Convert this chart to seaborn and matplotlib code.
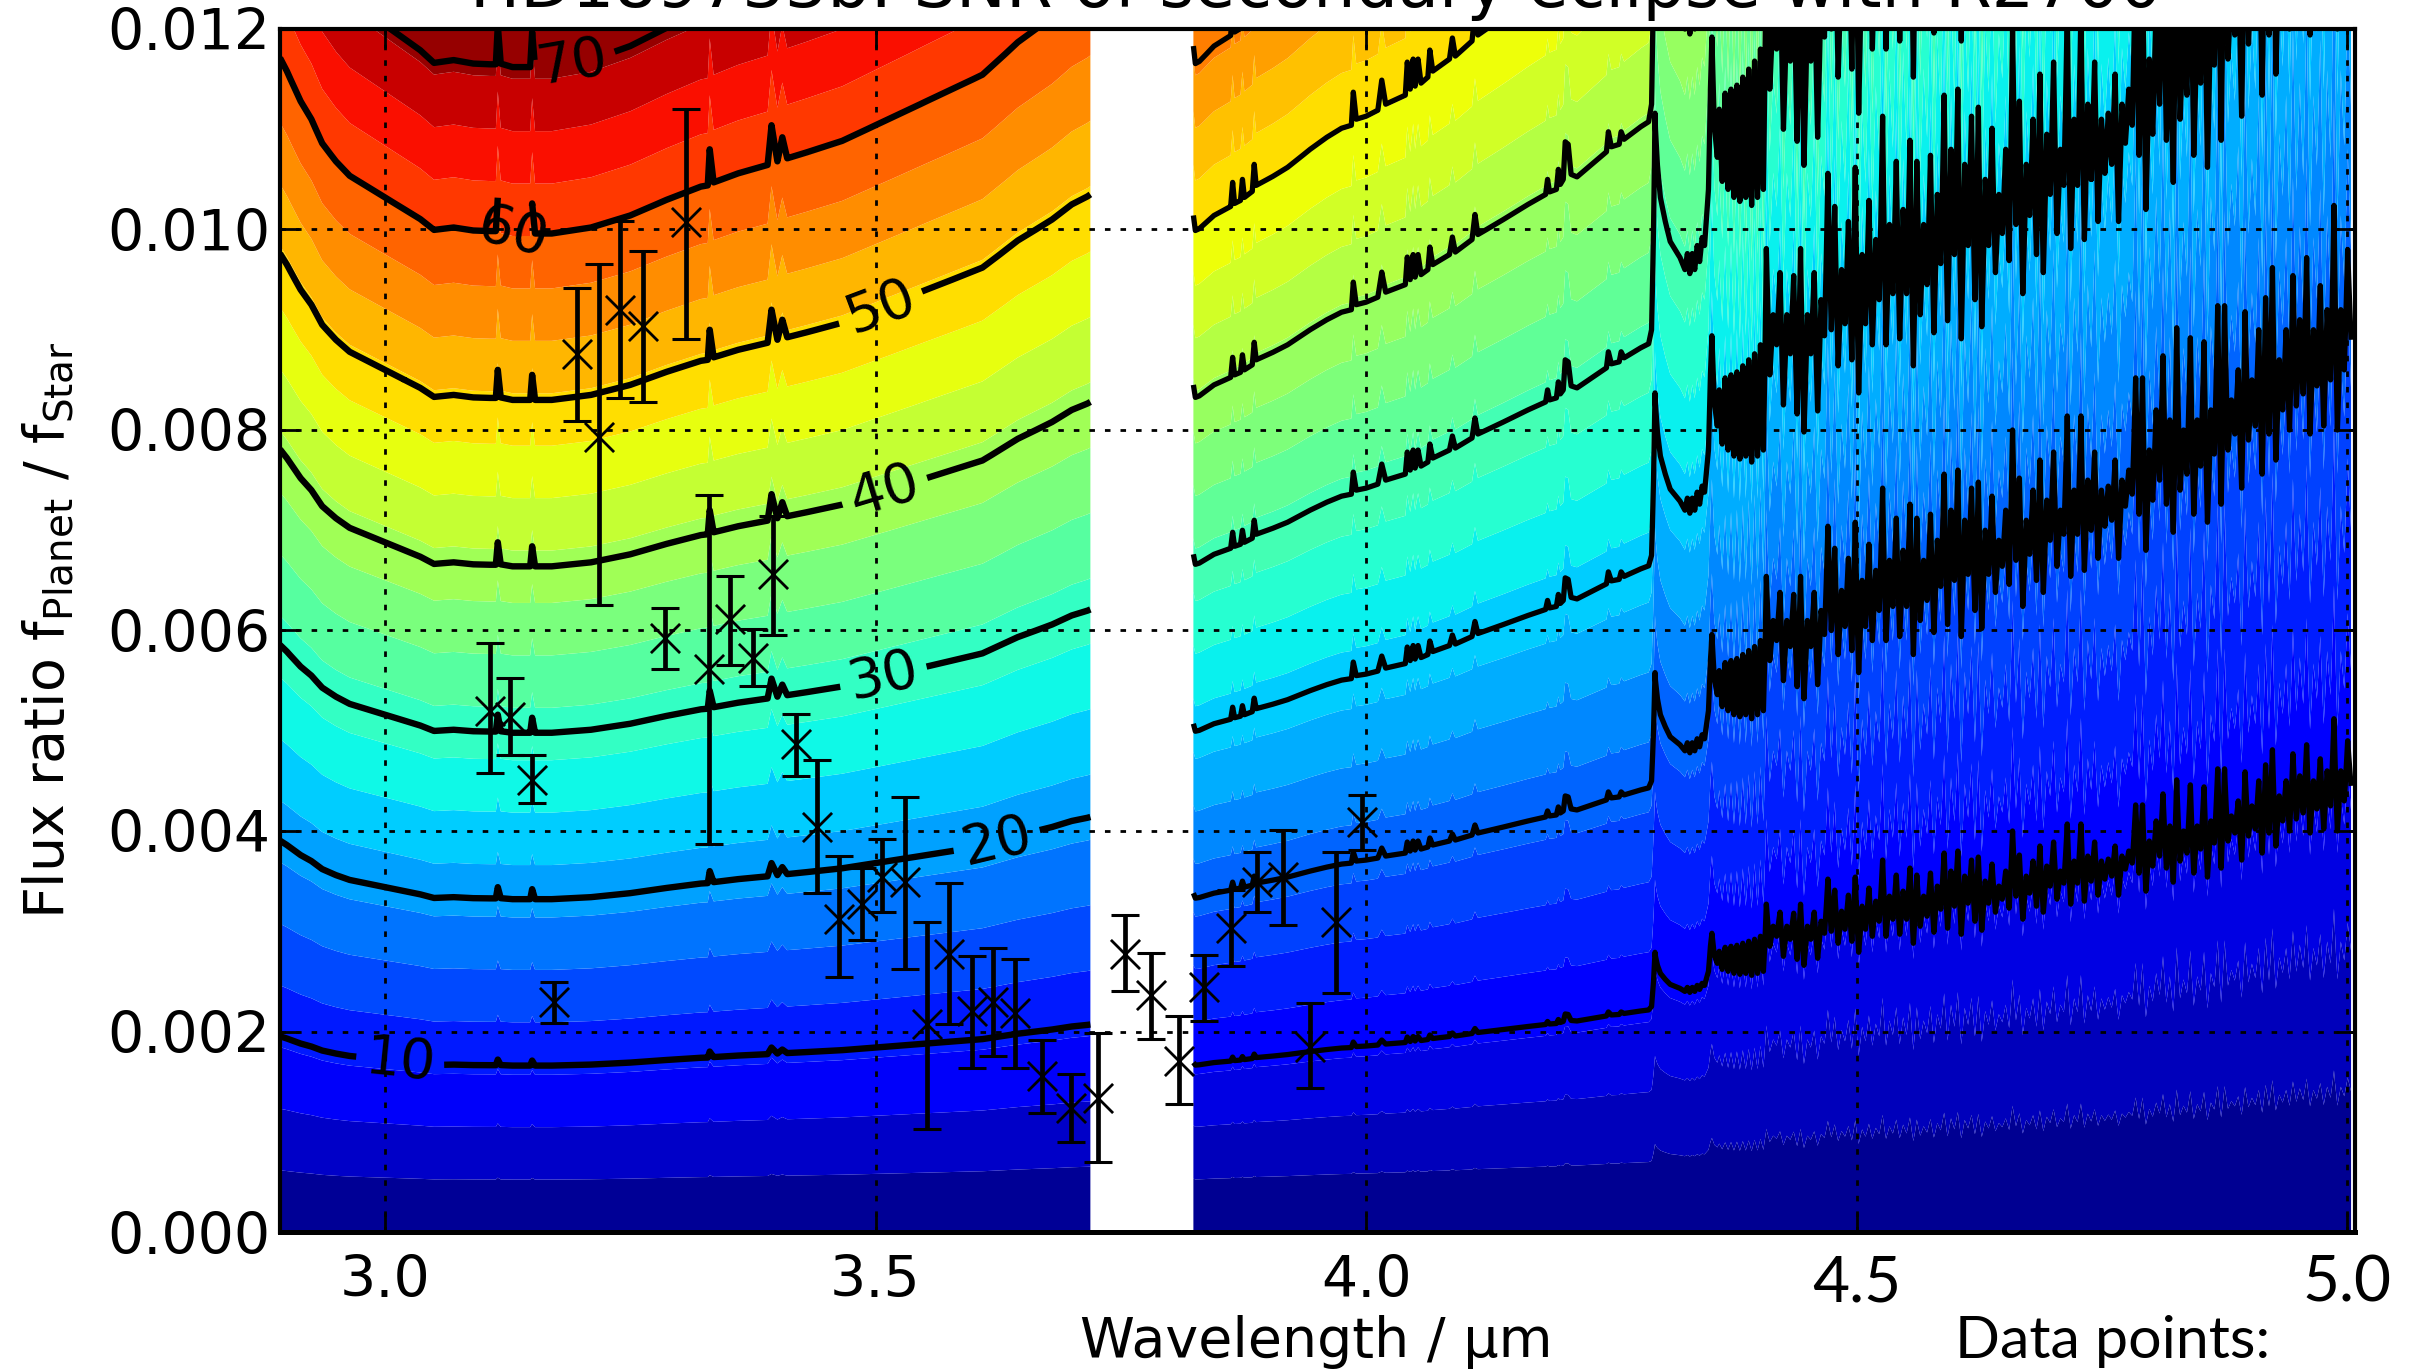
import numpy as np
import matplotlib
matplotlib.use("Agg")
import matplotlib.pyplot as plt
import seaborn as sns
import pandas as pd

# SNR=10 flux-ratio curve (units of 1e-3)
blue_lam = [2.893,2.90,2.914,2.925,2.936,2.95,2.964,2.98,3.0,3.02,3.036,3.05,3.07,3.09,3.107,3.113,3.115,3.118,3.13,3.148,3.15,3.153,3.17,3.19,3.21,3.25,3.287,3.322,3.329,3.331,3.335,3.36,3.39,3.394,3.40,3.405,3.41,3.43,3.466,3.5,3.552,3.609,3.645,3.68,3.70,3.716,3.719]
blue_y10 = [1.952,1.93,1.88,1.85,1.81,1.78,1.756,1.74,1.72,1.70,1.684,1.666,1.67,1.665,1.664,1.664,1.72,1.665,1.66,1.66,1.71,1.66,1.66,1.665,1.67,1.69,1.716,1.738,1.74,1.80,1.745,1.76,1.774,1.84,1.78,1.82,1.785,1.795,1.814,1.84,1.88,1.924,1.978,2.02,2.05,2.066,2.07]
red_lam = [3.824,3.826,3.83,3.845,3.862,3.864,3.866,3.872,3.874,3.876,3.884,3.886,3.888,3.905,3.92,3.943,3.96,3.975,3.985,3.987,3.99,4.0,4.012,4.016,4.02,4.04,4.042,4.045,4.048,4.05,4.053,4.056,4.063,4.065,4.068,4.085,4.088,4.091,4.108,4.111,4.114,4.14,4.165,4.183,4.185,4.187,4.194,4.196,4.198,4.201,4.203,4.206,4.209,4.215,4.23,4.245,4.247,4.25,4.258,4.26,4.263,4.28,4.288,4.291,4.293,4.2945,4.295,4.297,4.30,4.305,4.31,4.32,4.325,4.3275,4.33,4.3325,4.335,4.3375,4.34,4.3425,4.345,4.347,4.349,4.351,4.3525,4.355,4.358,4.360,4.363,4.366,4.369,4.372,4.375,4.378,4.381,4.384,4.387,4.390,4.393,4.396,4.399,4.402,4.405]
red_y10 = [1.69,1.665,1.668,1.69,1.705,1.745,1.71,1.715,1.75,1.72,1.73,1.775,1.74,1.755,1.77,1.80,1.82,1.835,1.84,1.895,1.85,1.855,1.865,1.915,1.875,1.89,1.945,1.90,1.95,1.905,1.95,1.91,1.92,1.965,1.93,1.95,1.985,1.955,1.98,2.03,1.99,2.02,2.05,2.07,2.10,2.075,2.08,2.12,2.09,2.10,2.175,2.17,2.11,2.105,2.13,2.155,2.195,2.165,2.17,2.195,2.18,2.205,2.215,2.25,2.5,2.79,2.75,2.66,2.58,2.52,2.47,2.43,2.40,2.44,2.39,2.44,2.40,2.46,2.42,2.48,2.46,2.53,2.60,2.85,2.98,2.76,2.68,2.80,2.62,2.84,2.60,2.85,2.58,2.86,2.57,2.88,2.58,2.90,2.56,2.92,2.58,2.95,2.60]
spiky_y10 = [3.27,2.85,3.05,2.95,3.19,2.75,3.05,2.92,3.18,2.72,3.27,2.66,3.05,2.92,3.19,2.73,3.10,2.98,3.52,3.0,3.41,2.88,3.20,3.02,3.36,2.90,3.54,2.79,3.25,3.02,3.43,2.95,3.30,3.10,3.71,2.95,3.35,3.12,3.56,2.97,3.40,3.12,3.63,2.88,3.56,3.05,3.35,3.15,3.58,2.99,3.45,3.22,3.78,3.03,3.60,3.25,3.80,2.97,3.55,3.28,3.71,3.10,3.74,3.01,3.50,3.28,3.67,3.19,3.45,3.32,3.60,3.23,4.00,3.35,3.76,3.12,3.55,3.38,3.70,3.25,3.85,3.19,3.65,3.45,3.89,3.32,3.60,3.48,4.07,3.27,3.70,3.48,4.07,3.30,3.75,3.50,3.89,3.36,3.70,3.52,3.72,3.55,3.85,3.36,3.75,3.62,3.80,3.68,4.26,3.58,4.26,3.40,3.90,3.65,4.10,3.75,4.37,3.63,4.05,3.49,4.51,3.70,4.00,3.78,4.46,3.58,4.05,3.82,4.44,3.54,4.10,3.88,4.62,3.63,4.62,3.90,4.15,3.98,4.30,3.71,4.59,3.95,4.25,4.02,4.50,3.78,4.66,3.98,4.81,3.85,4.35,4.10,4.50,4.00,4.77,4.12,4.55,4.18,4.86,3.98,4.50,4.22,4.72,4.02,4.60,4.25,5.12,4.00,4.60,4.30,4.90,4.45]

# data points: wavelength, flux ratio, lower, upper
pt_lam = [3.1075,3.127,3.15,3.172,3.196,3.218,3.24,3.263,3.285,3.307,3.33,3.352,3.375,3.396,3.419,3.44,3.463,3.486,3.507,3.53,3.552,3.575,3.598,3.62,3.642,3.67,3.699,3.727,3.754,3.781,3.809,3.835,3.862,3.889,3.915,3.943,3.969,3.996]
pt_val = [.0052,.00514,.00451,.00229,.00876,.00793,.0092,.00904,.00593,.01007,.00562,.00611,.00573,.00656,.00487,.00404,.00312,.00327,.00354,.00349,.00207,.00277,.0022,.00229,.00218,.00156,.00124,.00134,.00277,.00236,.00171,.00244,.00303,.00349,.00354,.00185,.00309,.00409]
pt_lo = [.00458,.00476,.00428,.00208,.00809,.00625,.00832,.00828,.00562,.00891,.00387,.00566,.00545,.00596,.00455,.00338,.00254,.00291,.00319,.00262,.00103,.00207,.00164,.00176,.00164,.00119,.0009,.0007,.0024,.00193,.00128,.0021,.00265,.00319,.00306,.00144,.00238,.00381]
pt_hi = [.00588,.00553,.00476,.00249,.00942,.00966,.01008,.00979,.00622,.0112,.00735,.00654,.00601,.00714,.00517,.00471,.00375,.00363,.00392,.00434,.00309,.00348,.00275,.00283,.00272,.00192,.00158,.00199,.00316,.00278,.00215,.00276,.00341,.00379,.00401,.00228,.00379,.00436]

line_levels = [10, 20, 30, 40, 50, 60, 70]
label_spots = [(3.015,.00165),(3.625,.00385),(3.51,.00545),(3.515,.0072),(3.515,.00895),(3.13,.0097),(3.19,.0117)]
y_ticks = [0,.002,.004,.006,.008,.010,.012]
x_ticks = [3.0,3.5,4.0,4.5,5.0]
title_text = "HD189733b: SNR of secondary eclipse with R2700"

sns.set_style("white")
plt.rcParams["font.family"] = ["DejaVu Sans"]
plt.rcParams["mathtext.default"] = "regular"
plt.rcParams["text.color"] = "k"
plt.rcParams["xtick.color"] = "k"
plt.rcParams["ytick.color"] = "k"
fig = plt.figure(figsize=(12.075, 6.85), dpi=200)
ax = fig.add_axes([280/2415, 1-1232/1370, (2355-280)/2415, (1232-29)/1370])

spiky_lam = np.linspace(4.408, 5.004, len(spiky_y10))
lam_blue = np.array(blue_lam)
lam_red = np.concatenate([red_lam, spiky_lam])
y10_blue = np.array(blue_y10) * 1e-3
y10_red = np.concatenate([red_y10, spiky_y10]) * 1e-3
flux = np.linspace(0, 0.0125, 51)
Z_blue = 10 * flux[:, None] / y10_blue[None, :]
Z_red = 10 * flux[:, None] / y10_red[None, :]

# the two wavelength ranges carry their own colour scale in the reference
ax.contourf(lam_blue, flux, Z_blue, levels=np.arange(24) * 3.15, cmap="jet", antialiased=True)
ax.contourf(lam_red, flux, Z_red, levels=np.arange(30) * 3.15, cmap="jet", antialiased=True)
cs_blue = ax.contour(lam_blue, flux, Z_blue, levels=line_levels, colors="k", linewidths=2.3)
cs_red = ax.contour(lam_red, flux, Z_red, levels=line_levels, colors="k", linewidths=1.9)
ax.clabel(cs_blue, fmt="%d", fontsize=20, inline=True, inline_spacing=9, manual=label_spots)

lows = np.array(pt_val) - np.array(pt_lo)
highs = np.array(pt_hi) - np.array(pt_val)
ax.errorbar(pt_lam, pt_val, yerr=[lows, highs], fmt="none", ecolor="k", elinewidth=1.7, capsize=5, capthick=1.1, zorder=5)
points = pd.DataFrame({"lam": pt_lam, "val": pt_val})
sns.scatterplot(data=points, x="lam", y="val", marker="x", color="k", s=110, linewidth=1.0, ax=ax, zorder=6, legend=False)

ax.set_xlim(2.893, 5.008)
ax.set_ylim(0, 0.012)
ax.set_xticks(x_ticks)
ax.set_yticks(y_ticks)
ax.set_xticklabels([f"{v:.1f}" for v in x_ticks], fontsize=20.5)
ax.set_yticklabels([f"{v:.3f}" for v in y_ticks], fontsize=20.5)
for lab in ax.get_xticklabels()[3:]:
    lab.set_family("Lato")
    lab.set_fontsize(23)
ax.tick_params(direction="in", length=7, width=1, top=True, right=True, bottom=True, left=True)
ax.tick_params(axis="x", pad=8)
ax.tick_params(axis="y", pad=3.5)
ax.grid(True, color="k", linestyle=(0, (2, 3.6)), linewidth=1.0)
ax.set_axisbelow(False)
for name, s in ax.spines.items():
    s.set_linewidth(1.8 if name == "bottom" else 1.5)
    s.set_color("k")
    s.set_zorder(8)
ax.set_xlabel("")
ax.set_ylabel("")
fig.text(1316/2415, 1-1342/1370, "Wavelength / μm", fontsize=20, ha="center", va="center")
fig.text(2113/2415, 1-1342/1370, "Data points:", fontsize=21.3, ha="center", va="center", family="Lato")
fig.text(48/2415, 1-630/1370, r"Flux ratio $f_{Planet}$ / $f_{Star}$", fontsize=20, rotation=90, ha="center", va="center")
fig.text(1316/2415, 1-7/1370, title_text, fontsize=24.1, ha="center", va="baseline")

fig.savefig("out.png", dpi=200)
